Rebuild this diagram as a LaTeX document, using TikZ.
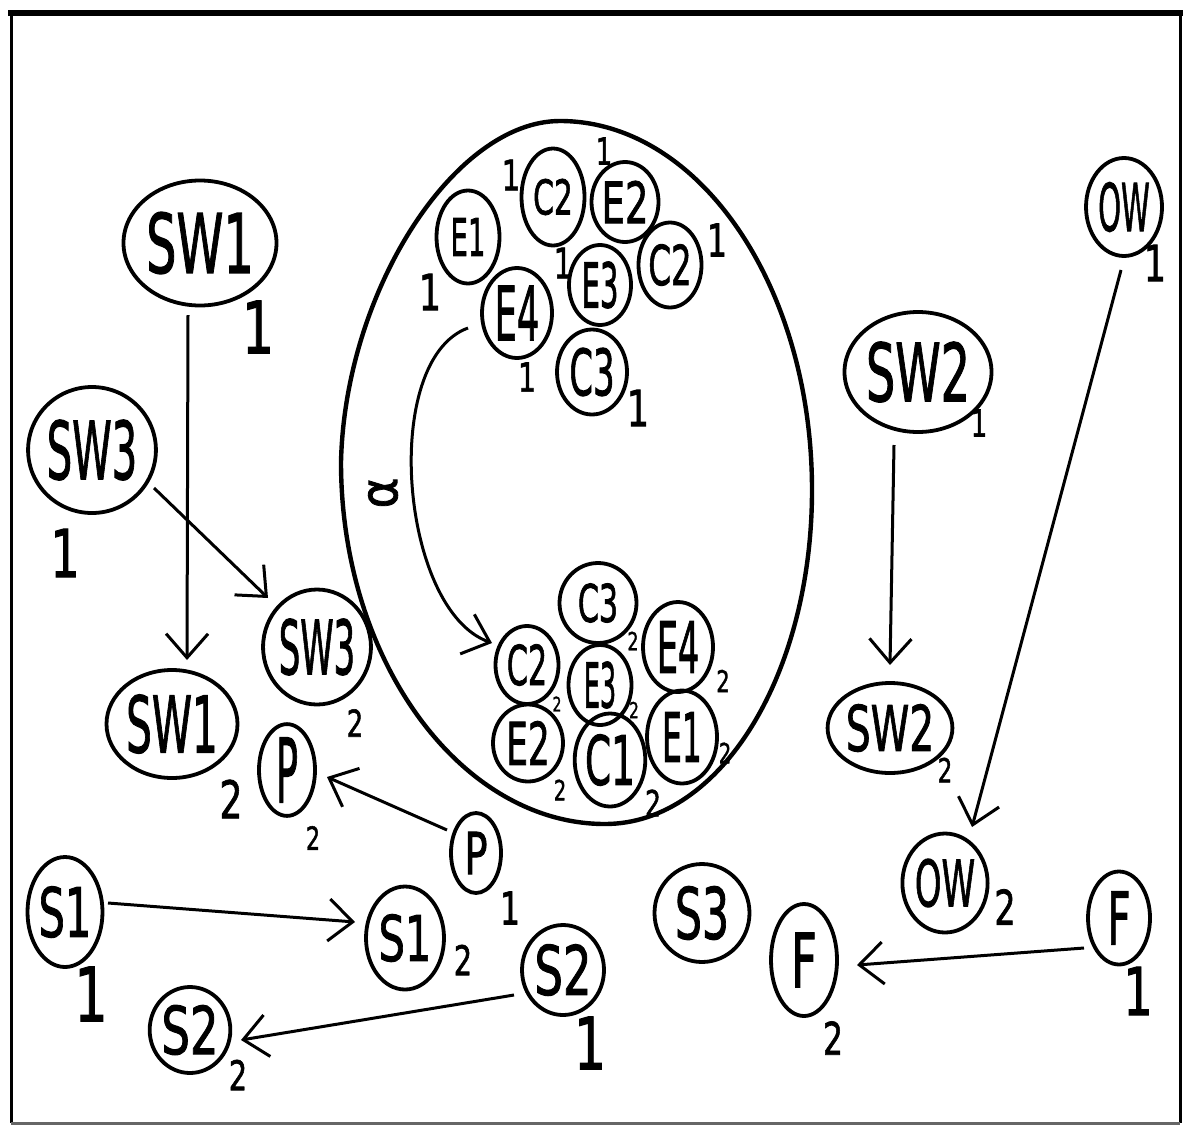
\documentclass[tikz,border=0pt]{standalone}
\usepackage{fontspec}
\usepackage{graphicx}
\setmainfont{DejaVu Sans}[FakeBold=1.6]
\usetikzlibrary{shapes.geometric,arrows.meta,calc}
% text of a given size, narrowed horizontally like the hand lettering
\newcommand\tx[3]{\fontsize{#1}{#1}\selectfont\scalebox{#2}[1]{#3}}
\tikzset{
  bub/.style={draw, ellipse, line width=3.8pt, inner sep=0pt},
  sz/.style 2 args={minimum width=#1pt, minimum height=#2pt},
  num/.style={inner sep=0pt},
  arr/.style={line width=3pt, -{Straight Barb[length=24pt,width=42pt]}},
}
\begin{document}
\begin{tikzpicture}[x=1pt,y=-1pt]
\useasboundingbox (0,0) rectangle (1185,1127);

% frame
\draw[line width=6pt] (8,13) -- (1183,13);
\draw[line width=3pt] (11,13) -- (11,1123);
\draw[line width=3pt] (1180,13) -- (1180,1123);
\draw[line width=3pt, black!60] (11,1123) -- (1180,1123);

% the large egg-shaped loop holding both clusters
\draw[line width=4.4pt]
  (560,121) .. controls (699,121) and (812,286) .. (812,490)
            .. controls (812,674) and (721,824) .. (605,824)
            .. controls (462,824) and (341,662) .. (341,462)
            .. controls (345,290) and (455,121) .. cycle;

% upper cluster
\node[bub, sz={63}{97}] (c2t) at (553,197) {\tx{48}{0.62}{C2}};
\node[bub, sz={67}{80}] (e2t) at (625,202) {\tx{57}{0.65}{E2}};
\node[bub, sz={63}{93}] (e1t) at (468,237) {\tx{52}{0.53}{E1}};
\node[bub, sz={62}{80}] (e3t) at (600,285) {\tx{62}{0.47}{E3}};
\node[bub, sz={63}{85}] (c2r) at (670,265) {\tx{55}{0.59}{C2}};
\node[bub, sz={70}{90}] (e4t) at (517,313) {\tx{75}{0.47}{E4}};
\node[bub, sz={70}{85}] (c3t) at (592,372) {\tx{64}{0.53}{C3}};
\node[num] (n1) at (511,175) {\tx{42}{0.7}{1}};
\node[num] (n2) at (604,151) {\tx{37}{0.7}{1}};
\node[num] (n3) at (717,240) {\tx{45}{0.7}{1}};
\node[num] (n4) at (430,292) {\tx{50}{0.7}{1}};
\node[num] (n5) at (563,263) {\tx{42}{0.7}{1}};
\node[num] (n6) at (527,377) {\tx{40}{0.7}{1}};
\node[num] (n7) at (638,408) {\tx{50}{0.7}{1}};

% lower cluster
\node[bub, sz={77}{80}] (c3b) at (598,603) {\tx{52}{0.58}{C3}};
\node[bub, sz={63}{78}] (c2b) at (527,665) {\tx{55}{0.55}{C2}};
\node[bub, sz={63}{80}] (e3b) at (600,685) {\tx{62}{0.41}{E3}};
\node[bub, sz={70}{90}] (e4b) at (678,647) {\tx{71}{0.47}{E4}};
\node[bub, sz={70}{77}] (e2b) at (528,743) {\tx{59}{0.58}{E2}};
\node[bub, sz={67}{93}] (c1b) at (610,760) {\tx{68}{0.55}{C1}};
\node[bub, sz={70}{93}] (e1b) at (682,737) {\tx{68}{0.46}{E1}};
\node[num] (m1) at (633,641) {\tx{25}{0.7}{2}};
\node[num] (m2) at (557,704) {\tx{20}{0.7}{2}};
\node[num] (m3) at (634,710) {\tx{22}{0.7}{2}};
\node[num] (m4) at (723,681) {\tx{30}{0.7}{2}};
\node[num] (m5) at (725,753) {\tx{28}{0.7}{2}};
\node[num] (m6) at (560,790) {\tx{28}{0.7}{2}};
\node[num] (m7) at (653,803) {\tx{36}{0.7}{2}};

% transition inside the loop
\node[num, rotate=90] (alpha) at (383,493) {\tx{52}{0.9}{α}};
\draw[arr] ($(e4t)+(-49,15)$) .. controls (380,360) and (400,610) .. ($(c2b)+(-35,-22)$);

% left side
\node[bub, sz={153}{125}] (sw1a) at (200,243) {\tx{82}{0.58}{SW1}};
\node[bub, sz={122}{126}] (sw3a) at (92,450) {\tx{80}{0.5}{SW3}};
\node[bub, sz={131}{108}] (sw1b) at (172,724) {\tx{78}{0.52}{SW1}};
\node[bub, sz={104}{115}] (sw3b) at (317,647) {\tx{75}{0.45}{SW3}};
\node[bub, sz={56}{90}] (p2) at (287,770) {\tx{89}{0.41}{P}};
\node[bub, sz={50}{80}] (p1) at (476,853) {\tx{58}{0.66}{P}};
\node[bub, sz={75}{110}] (s1a) at (65,912) {\tx{68}{0.61}{S1}};
\node[bub, sz={78}{103}] (s1b) at (405,938) {\tx{63}{0.66}{S1}};
\node[bub, sz={82}{90}] (s2a) at (563,970) {\tx{68}{0.66}{S2}};
\node[bub, sz={74}{86}] (s2b) at (190,1030) {\tx{66}{0.68}{S2}};
\node[num] (k1) at (258,327) {\tx{72}{0.7}{1}};
\node[num] (k2) at (65,553) {\tx{66}{0.7}{1}};
\node[num] (k3) at (231,799) {\tx{52}{0.7}{2}};
\node[num] (k4) at (355,723) {\tx{37}{0.7}{2}};
\node[num] (k5) at (313,838) {\tx{32}{0.7}{2}};
\node[num] (k6) at (510,908) {\tx{45}{0.7}{1}};
\node[num] (k7) at (91,994) {\tx{75}{0.7}{1}};
\node[num] (k8) at (463,960) {\tx{41}{0.7}{2}};
\node[num] (k9) at (590,1043) {\tx{72}{0.7}{1}};
\node[num] (k10) at (238,1075) {\tx{41}{0.7}{2}};

% right side
\node[bub, sz={76}{98}] (ow1) at (1124,207) {\tx{66}{0.44}{OW}};
\node[bub, sz={141}{120}] (sw2a) at (918,372) {\tx{80}{0.575}{SW2}};
\node[bub, sz={123}{90}] (sw2b) at (890,728) {\tx{63}{0.62}{SW2}};
\node[bub, sz={83}{99}] (ow2) at (945,883) {\tx{64}{0.53}{OW}};
\node[bub, sz={95}{98}] (s3) at (702,913) {\tx{71}{0.6}{S3}};
\node[bub, sz={66}{112}] (f2) at (804,960) {\tx{75}{0.6}{F}};
\node[bub, sz={62}{93}] (f1) at (1119,918) {\tx{73}{0.55}{F}};
\node[num] (r1) at (1155,263) {\tx{50}{0.7}{1}};
\node[num] (r2) at (979,423) {\tx{37}{0.7}{1}};
\node[num] (r3) at (945,770) {\tx{33}{0.7}{2}};
\node[num] (r4) at (1005,907) {\tx{48}{0.7}{2}};
\node[num] (r5) at (833,1038) {\tx{45}{0.7}{2}};
\node[num] (r6) at (1138,991) {\tx{66}{0.7}{1}};

% transitions
\draw[arr] ($(sw1a)+(-12,72)$) -- ($(sw1b)+(15,-64)$);
\draw[arr] ($(sw3a)+(62,38)$) -- ($(sw3b)+(-49,-49)$);
\draw[arr] ($(p1)+(-29,-23)$) -- ($(p2)+(40,7)$);
\draw[arr] ($(s1a)+(43,-9)$) -- ($(s1b)+(-50,-16)$);
\draw[arr] ($(s2a)+(-49,25)$) -- ($(s2b)+(51,10)$);
\draw[arr] ($(sw2a)+(-24,73)$) -- ($(sw2b)+(0,-63)$);
\draw[arr] ($(ow1)+(-3,63)$) -- ($(ow2)+(27,-56)$);
\draw[arr] ($(f1)+(-35,30)$) -- ($(f2)+(53,5)$);
\end{tikzpicture}
\end{document}
